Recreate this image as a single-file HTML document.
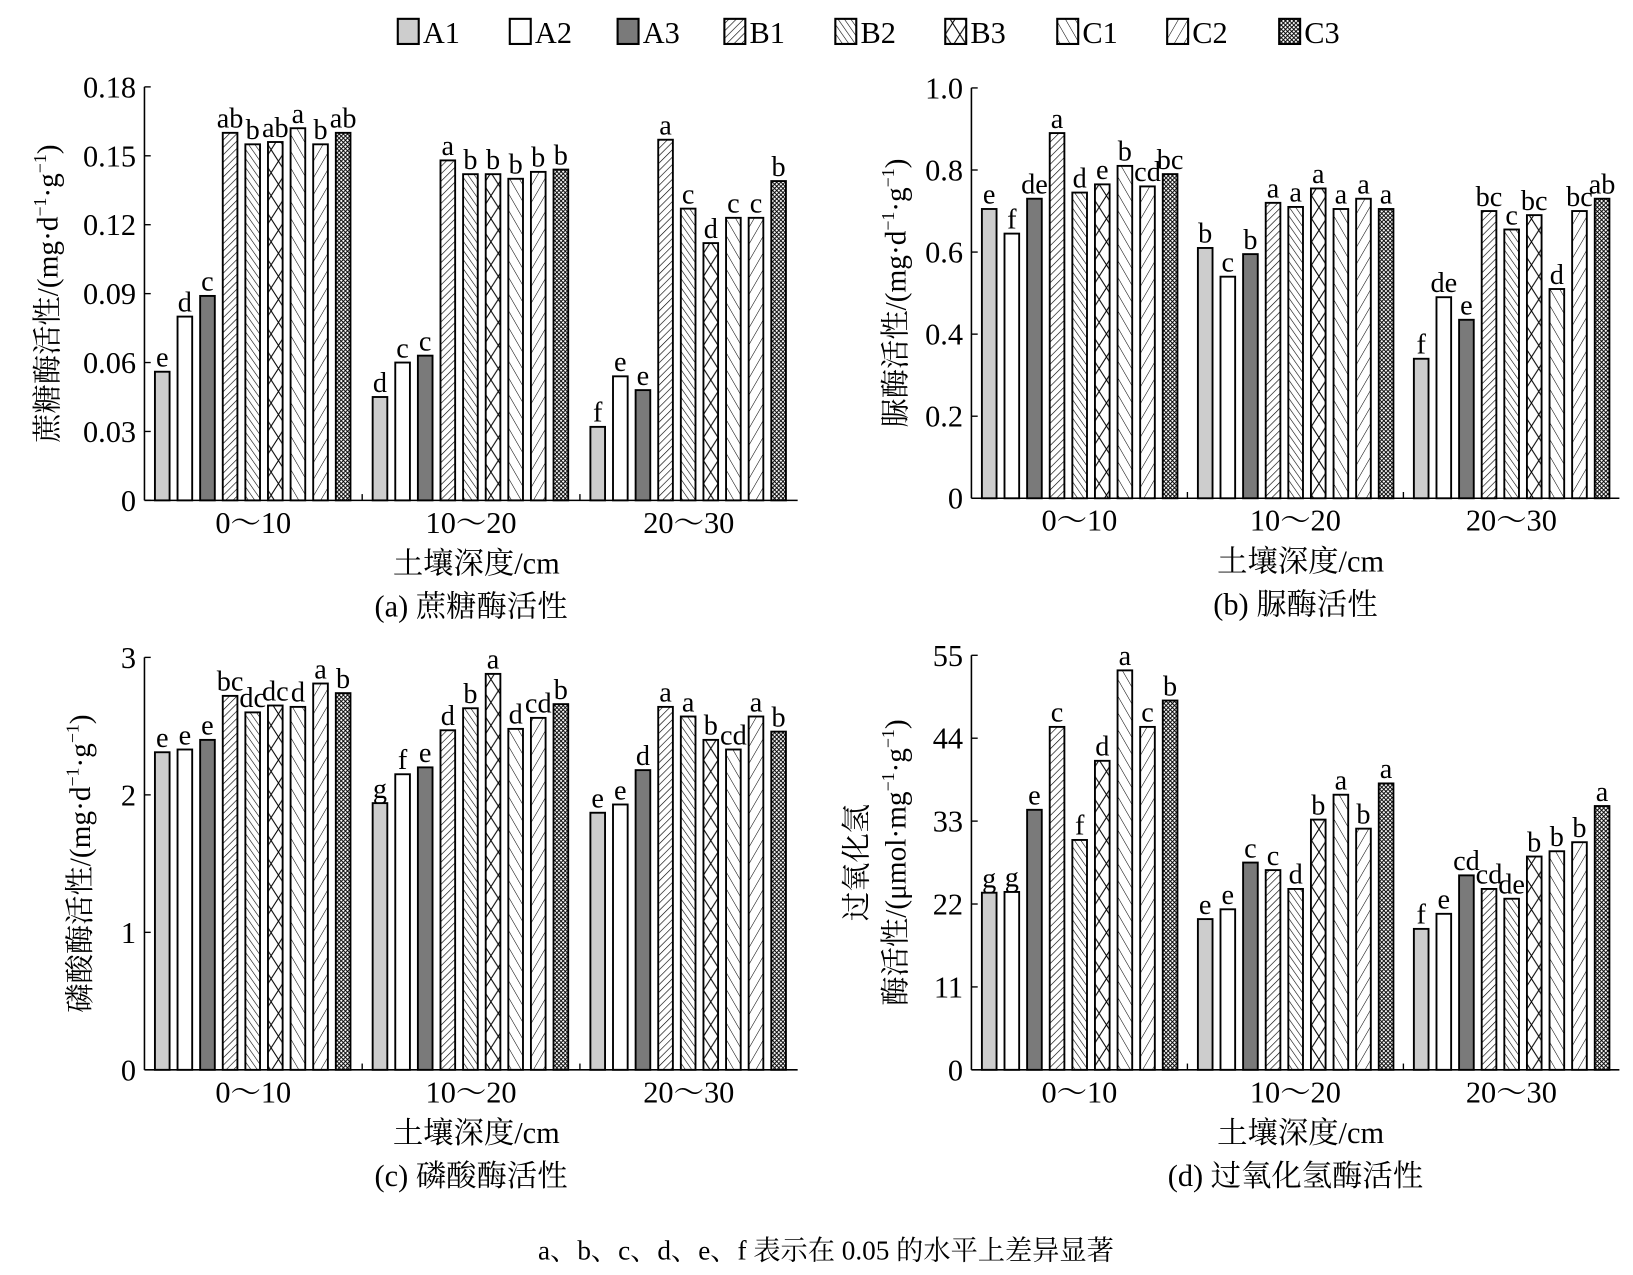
<!DOCTYPE html>
<html><head><meta charset="utf-8"><style>
body{margin:0;background:#fff}
svg{display:block;font-family:"Liberation Serif","Noto Serif CJK SC",serif}
</style></head><body>
<svg id="s" width="1633" height="1275" viewBox="0 0 1560 1218" preserveAspectRatio="none" xmlns="http://www.w3.org/2000/svg">
<defs>
<pattern id="pB1" patternUnits="userSpaceOnUse" width="5" height="5" patternTransform="rotate(45)"><rect width="5" height="5" fill="#fff"/><line x1="0" y1="0" x2="0" y2="5" stroke="#000" stroke-width="1.2"/></pattern>
<pattern id="pB2" patternUnits="userSpaceOnUse" width="5" height="5" patternTransform="rotate(-35)"><rect width="5" height="5" fill="#fff"/><line x1="0" y1="0" x2="0" y2="5" stroke="#000" stroke-width="1.1"/></pattern>
<pattern id="pB3" patternUnits="userSpaceOnUse" width="14" height="22"><rect width="14" height="22" fill="#fff"/><path d="M0 0L14 22M14 0L0 22" stroke="#000" stroke-width="1"/></pattern>
<pattern id="pC1" patternUnits="userSpaceOnUse" width="8" height="8" patternTransform="rotate(-30)"><rect width="8" height="8" fill="#fff"/><line x1="0" y1="0" x2="0" y2="8" stroke="#000" stroke-width="1"/></pattern>
<pattern id="pC2" patternUnits="userSpaceOnUse" width="8" height="8" patternTransform="rotate(30)"><rect width="8" height="8" fill="#fff"/><line x1="0" y1="0" x2="0" y2="8" stroke="#000" stroke-width="1"/></pattern>
<pattern id="pC3" patternUnits="userSpaceOnUse" width="4" height="4"><rect width="4" height="4" fill="#fff"/><path d="M0 0L4 4M4 0L0 4" stroke="#000" stroke-width="0.9"/></pattern>
</defs>
</svg>
<script>
const series=['A1','A2','A3','B1','B2','B3','C1','C2','C3'];
const fills=['#cdcdcd','#fff','#7a7a7a','url(#pB1)','url(#pB2)','url(#pB3)','url(#pC1)','url(#pC2)','url(#pC3)'];
const groups=['0～10','10～20','20～30'];
const aVals=[[.056,.080,.089,.160,.155,.156,.162,.155,.160],[.045,.060,.063,.148,.142,.142,.140,.143,.144],[.032,.054,.048,.157,.127,.112,.123,.123,.139]];
const aLet=[['e','d','c','ab','b','ab','a','b','ab'],['d','c','c','a','b','b','b','b','b'],['f','e','e','a','c','d','c','c','b']];
const aTicks=['0','0.03','0.06','0.09','0.12','0.15','0.18'];
const bVals=[[.705,.645,.73,.89,.745,.765,.81,.76,.79],[.61,.54,.595,.72,.71,.755,.705,.73,.705],[.34,.49,.435,.70,.655,.69,.51,.70,.73]];
const bLet=[['e','f','de','a','d','e','b','cd','bc'],['b','c','b','a','a','a','a','a','a'],['f','de','e','bc','c','bc','d','bc','ab']];
const bTicks=['0','0.2','0.4','0.6','0.8','1.0'];
const cVals=[[2.31,2.33,2.40,2.72,2.60,2.65,2.64,2.81,2.74],[1.94,2.15,2.20,2.47,2.63,2.88,2.48,2.56,2.66],[1.87,1.93,2.18,2.64,2.57,2.40,2.33,2.57,2.46]];
const cLet=[['e','e','e','bc','dc','dc','d','a','b'],['g','f','e','d','b','a','d','cd','b'],['e','e','d','a','a','b','cd','a','b']];
const cTicks=['0','1','2','3'];
const dVals=[[23.5,23.6,34.5,45.5,30.5,41,53,45.5,49],[20,21.3,27.5,26.5,24,33.2,36.5,32,38],[18.7,20.7,25.8,24,22.7,28.3,29,30.2,35]];
const dLet=[['g','g','e','c','f','d','a','c','b'],['e','e','c','c','d','b','a','b','a'],['f','e','cd','cd','de','b','b','b','a']];
const dTicks=['0','11','22','33','44','55'];

const NS='http://www.w3.org/2000/svg';
const svg=document.getElementById('s');
function el(t,a,p){const e=document.createElementNS(NS,t);for(const k in a)e.setAttribute(k,a[k]);(p||svg).appendChild(e);return e;}
function txt(s,a,p){const e=el('text',a,p);e.textContent=s;return e;}

function panel(id,x0,x1,yTop,y0,vals,lets,ticks,title,ylabel){
  const g=el('g',{});
  
  
  const max=parseFloat(ticks[ticks.length-1]);
  const y=v=>y0-(v/max)*(y0-yTop);
  const gw=(x1-x0)/3;
  const bx=(gi,si)=>x0+gi*gw+10+si*21.6;
  vals.forEach((gv,gi)=>gv.forEach((v,si)=>{
    const r=el('rect',{x:bx(gi,si),y:y(v),width:14,height:y0-y(v),fill:fills[si],stroke:'#000','stroke-width':1.8},g);
    
    
    const t=txt(lets[gi][si],{x:bx(gi,si)+7,y:y(v)-5,'font-size':27,'text-anchor':'middle'},g);
    
    
  }));
  el('line',{x1:x0,y1:yTop,x2:x0,y2:y0,stroke:'#000','stroke-width':1.5},g);
  el('line',{x1:x0,y1:y0,x2:x1,y2:y0,stroke:'#000','stroke-width':1.5},g);
  ticks.forEach(tk=>{const yy=y(parseFloat(tk));
    el('line',{x1:x0,y1:yy,x2:x0+6,y2:yy,stroke:'#000','stroke-width':1.3},g);
    const t=txt(tk,{x:x0-8,y:yy+10,'font-size':29,'text-anchor':'end'},g);
    
    
  });
  groups.forEach((gn,gi)=>{
    if(gi>0)el('line',{x1:x0+gi*gw,y1:y0,x2:x0+gi*gw,y2:y0-6,stroke:'#000','stroke-width':1.3},g);
    const t=txt(gn,{x:x0+gi*gw+gw/2,y:y0+31,'font-size':29,'text-anchor':'middle'},g);
    
    
  });
  const xt=txt('土壤深度/cm',{x:(x0+x1)/2+5,y:y0+70,'font-size':29,'text-anchor':'middle'},g);
  
  
  const tt=txt(title,{x:(x0+x1)/2,y:y0+111,'font-size':29,'text-anchor':'middle'},g);
  
  
  ylabel(g,(yTop+y0)/2);
}
function ylab(lines,xs){return (g,cy)=>{lines.forEach((l,i)=>{
  const t=el('text',{transform:'translate('+xs[i]+','+cy+') rotate(-90)','font-size':28,'text-anchor':'middle'},g);
  t.innerHTML=l;
  
  
});};}
const unitA='(mg·d<tspan font-size="17" dy="-11">−1</tspan><tspan dy="11">·g</tspan><tspan font-size="17" dy="-11">−1</tspan><tspan dy="11">)</tspan>';
panel('a',138,762,83,478,aVals,aLet,aTicks,'(a) 蔗糖酶活性',ylab(['蔗糖酶活性/'+unitA],[55]));
panel('b',928,1547,84,476,bVals,bLet,bTicks,'(b) 脲酶活性',ylab(['脲酶活性/'+unitA],[865]));
panel('c',138,762,628,1022,cVals,cLet,cTicks,'(c) 磷酸酶活性',ylab(['磷酸酶活性/'+unitA],[86]));
panel('d',928,1547,626,1022,dVals,dLet,dTicks,'(d) 过氧化氢酶活性',ylab(['过氧化氢','酶活性/(μmol·mg<tspan font-size="17" dy="-11">−1</tspan><tspan dy="11">·g</tspan><tspan font-size="17" dy="-11">−1</tspan><tspan dy="11">)</tspan>'],[828,865]));

const lx=[380,487,590,692,798,903,1010,1115,1222];
series.forEach((s,i)=>{
  const r=el('rect',{x:lx[i],y:18,width:20,height:24,fill:fills[i],stroke:'#000','stroke-width':2});
  
  
  const t=txt(s,{x:lx[i]+24,y:41,'font-size':29});
  
  
});
const f=txt('a、b、c、d、e、f 表示在 0.05 的水平上差异显著',{x:789,y:1203,'font-size':26,'text-anchor':'middle'});


</script>
</body></html>
